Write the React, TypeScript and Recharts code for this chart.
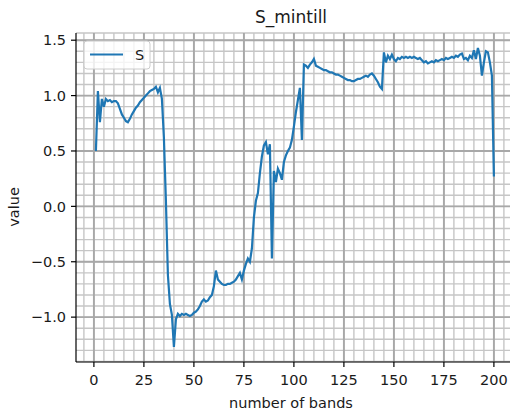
import React from 'react';
import { LineChart, Line, XAxis, YAxis, CartesianGrid } from 'recharts';

const seriesName = 'S';
const chartTitle = 'S_mintill';
const xLabel = 'number of bands';
const yLabel = 'value';

// values for bands 1..200
const values = [
  0.50, 1.04, 0.76, 0.97, 0.90, 0.97, 0.95, 0.96, 0.94, 0.95,
  0.95, 0.93, 0.88, 0.83, 0.80, 0.77, 0.76, 0.79, 0.83, 0.86,
  0.89, 0.91, 0.94, 0.96, 0.98, 1.00, 1.02, 1.04, 1.05, 1.06,
  1.08, 1.03, 1.07, 0.97, 0.62, 0.05, -0.62, -0.88, -0.98, -1.27,
  -1.02, -0.97, -0.99, -0.97, -0.98, -0.97, -0.98, -0.99, -0.98, -0.96,
  -0.95, -0.93, -0.90, -0.86, -0.84, -0.86, -0.85, -0.82, -0.80, -0.72,
  -0.58, -0.66, -0.68, -0.70, -0.71, -0.71, -0.70, -0.70, -0.69, -0.68,
  -0.66, -0.63, -0.60, -0.66, -0.58, -0.52, -0.47, -0.50, -0.38, -0.10,
  0.05, 0.12, 0.30, 0.45, 0.55, 0.58, 0.47, 0.56, -0.47, 0.32,
  0.22, 0.34, 0.30, 0.24, 0.40, 0.46, 0.50, 0.53, 0.60, 0.72,
  0.85, 0.96, 1.07, 0.60, 1.28, 1.27, 1.25, 1.28, 1.30, 1.33,
  1.27, 1.26, 1.25, 1.24, 1.23, 1.23, 1.22, 1.21, 1.21, 1.20,
  1.19, 1.19, 1.18, 1.17, 1.16, 1.15, 1.14, 1.14, 1.13, 1.13,
  1.14, 1.15, 1.15, 1.16, 1.17, 1.18, 1.17, 1.19, 1.20, 1.18,
  1.15, 1.12, 1.08, 1.06, 1.39, 1.30, 1.36, 1.33, 1.37, 1.33,
  1.31, 1.34, 1.33, 1.35, 1.34, 1.35, 1.34, 1.35, 1.34, 1.35,
  1.34, 1.33, 1.34, 1.32, 1.30, 1.31, 1.29, 1.30, 1.31, 1.30,
  1.32, 1.31, 1.32, 1.33, 1.32, 1.34, 1.33, 1.34, 1.35, 1.34,
  1.36, 1.35, 1.37, 1.38, 1.33, 1.34, 1.32, 1.36, 1.34, 1.41,
  1.33, 1.43, 1.36, 1.18, 1.30, 1.40, 1.39, 1.30, 1.18, 0.27,
];

const xTicks = [0, 25, 50, 75, 100, 125, 150, 175, 200];
const yTicks = [-1.0, -0.5, 0.0, 0.5, 1.0, 1.5];

const data = values.map((v, i) => ({ band: i + 1, S: v }));

const X_DOMAIN: [number, number] = [-8.95, 208.05];
const Y_DOMAIN: [number, number] = [-1.405, 1.565];

const xMinor: number[] = [];
for (let v = -5; v <= 205; v += 5) xMinor.push(v);
const yMinor: number[] = [];
for (let k = -14; k <= 15; k++) yMinor.push(k / 10);
yMinor.push(Y_DOMAIN[1]);

const FONT = 'DejaVu Sans';
const fmt = (v: number) => (v < 0 ? '\u2212' + Math.abs(v).toFixed(1) : v.toFixed(1));

export default function App() {
  return (
    <div style={{ position: 'absolute', left: 0, top: 0, width: 510, height: 414, background: '#fff' }}>
      <LineChart
        width={510}
        height={414}
        data={data}
        margin={{ top: 33, right: 0, bottom: 22, left: 16 }}
      >
        <CartesianGrid
          stroke="#c6c6c6"
          strokeWidth={1.4}
          verticalValues={xMinor}
          horizontalValues={yMinor}
        />
        <CartesianGrid
          stroke="#a8a8a8"
          strokeWidth={1.9}
          verticalValues={xTicks}
          horizontalValues={yTicks}
        />
        <XAxis
          type="number"
          dataKey="band"
          domain={X_DOMAIN}
          ticks={xTicks}
          allowDataOverflow
          height={30}
          tickSize={5}
          tickMargin={8}
          axisLine={{ stroke: '#000', strokeWidth: 1.2 }}
          tickLine={{ stroke: '#000', strokeWidth: 1.2 }}
          tick={{ fontFamily: FONT, fontSize: 14.5, fill: '#1a1a1a' }}
          interval={0}
        />
        <YAxis
          type="number"
          domain={Y_DOMAIN}
          ticks={yTicks}
          allowDataOverflow
          width={60}
          tickSize={5}
          tickMargin={5}
          tickFormatter={fmt}
          axisLine={{ stroke: '#000', strokeWidth: 1.2 }}
          tickLine={{ stroke: '#000', strokeWidth: 1.2 }}
          tick={{ fontFamily: FONT, fontSize: 14.5, fill: '#1a1a1a' }}
          interval={0}
        />
        <Line
          type="linear"
          dataKey="S"
          name={seriesName}
          stroke="#1f77b4"
          strokeWidth={2.2}
          dot={false}
          isAnimationActive={false}
        />
      </LineChart>
      <svg
        width={510}
        height={414}
        style={{ position: 'absolute', left: 0, top: 0, pointerEvents: 'none' }}
      >
        <text x={291} y={23} textAnchor="middle" fontFamily={FONT} fontSize={17} fill="#1a1a1a">
          {chartTitle}
        </text>
        <text x={291} y={408} textAnchor="middle" fontFamily={FONT} fontSize={14.5} fill="#1a1a1a">
          {xLabel}
        </text>
        <text
          x={19}
          y={207}
          textAnchor="middle"
          fontFamily={FONT}
          fontSize={14.5}
          fill="#1a1a1a"
          transform="rotate(-90, 19, 207)"
        >
          {yLabel}
        </text>
        <rect x={84} y={41} width={66} height={28} rx={3} fill="rgba(255,255,255,0.8)" stroke="#cccccc" strokeWidth={1} />
        <line x1={90} y1={54.5} x2={123} y2={54.5} stroke="#1f77b4" strokeWidth={2.2} />
        <text x={135} y={60} fontFamily={FONT} fontSize={14.5} fill="#1a1a1a">
          {seriesName}
        </text>
      </svg>
    </div>
  );
}
